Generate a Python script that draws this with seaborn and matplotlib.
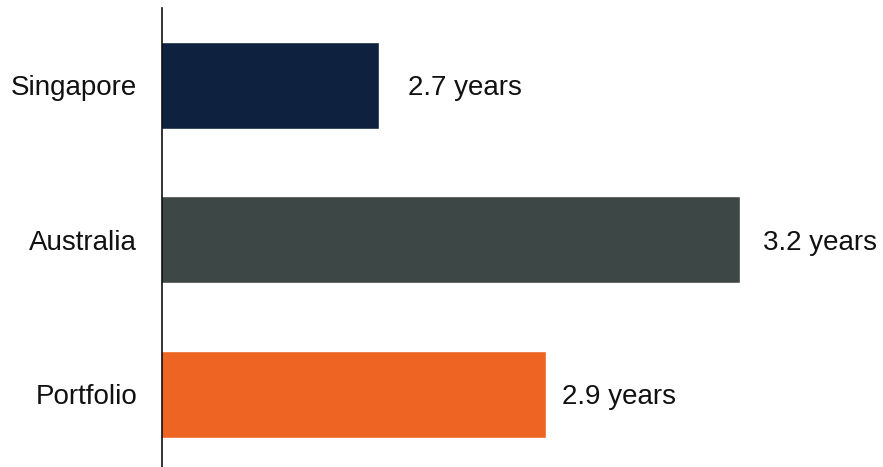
import matplotlib
matplotlib.use("Agg")
import matplotlib.pyplot as plt
import seaborn as sns
import pandas as pd

# Weighted average lease expiry by market
categories = ["Singapore", "Australia", "Portfolio"]
wale_years = [2.66, 3.20, 2.91]
bar_colors = ["#0e2240", "#3d4745", "#ee6423"]
label_pad_pt = [21, 16.5, 11]

sns.set_theme(style="white")
plt.rcParams["font.family"] = ["Liberation Sans", "DejaVu Sans"]

df = pd.DataFrame({"market": categories, "years": wale_years})

fig = plt.figure(figsize=(8.83, 4.67), dpi=100)
ax = fig.add_axes([162 / 883, 0.0, 1 - 162 / 883, 1 - 8 / 467])

sns.barplot(
    data=df, x="years", y="market", hue="market",
    palette=bar_colors, orient="h", width=0.564,
    saturation=1, legend=False, ax=ax,
)

for container, pad in zip(ax.containers, label_pad_pt):
    texts = ax.bar_label(container,
                         labels=[f"{v:.1f} years" for v in container.datavalues],
                         padding=pad, fontsize=20, color="#111111")
    for t in texts:
        t.set_verticalalignment("center_baseline")

ax.set_xlim(2.335, 2.335 + 721 / 668.5)
ax.set_ylim(2.473, -0.502)

ax.set_xlabel("")
ax.set_ylabel("")
ax.set_xticks([])
ax.tick_params(axis="y", length=0, pad=18, labelsize=20, labelcolor="#111111")

for side in ["top", "right", "bottom"]:
    ax.spines[side].set_visible(False)
ax.spines["left"].set_color("#111111")
ax.spines["left"].set_linewidth(1.2)

fig.savefig("out.png", dpi=100, facecolor="white")
